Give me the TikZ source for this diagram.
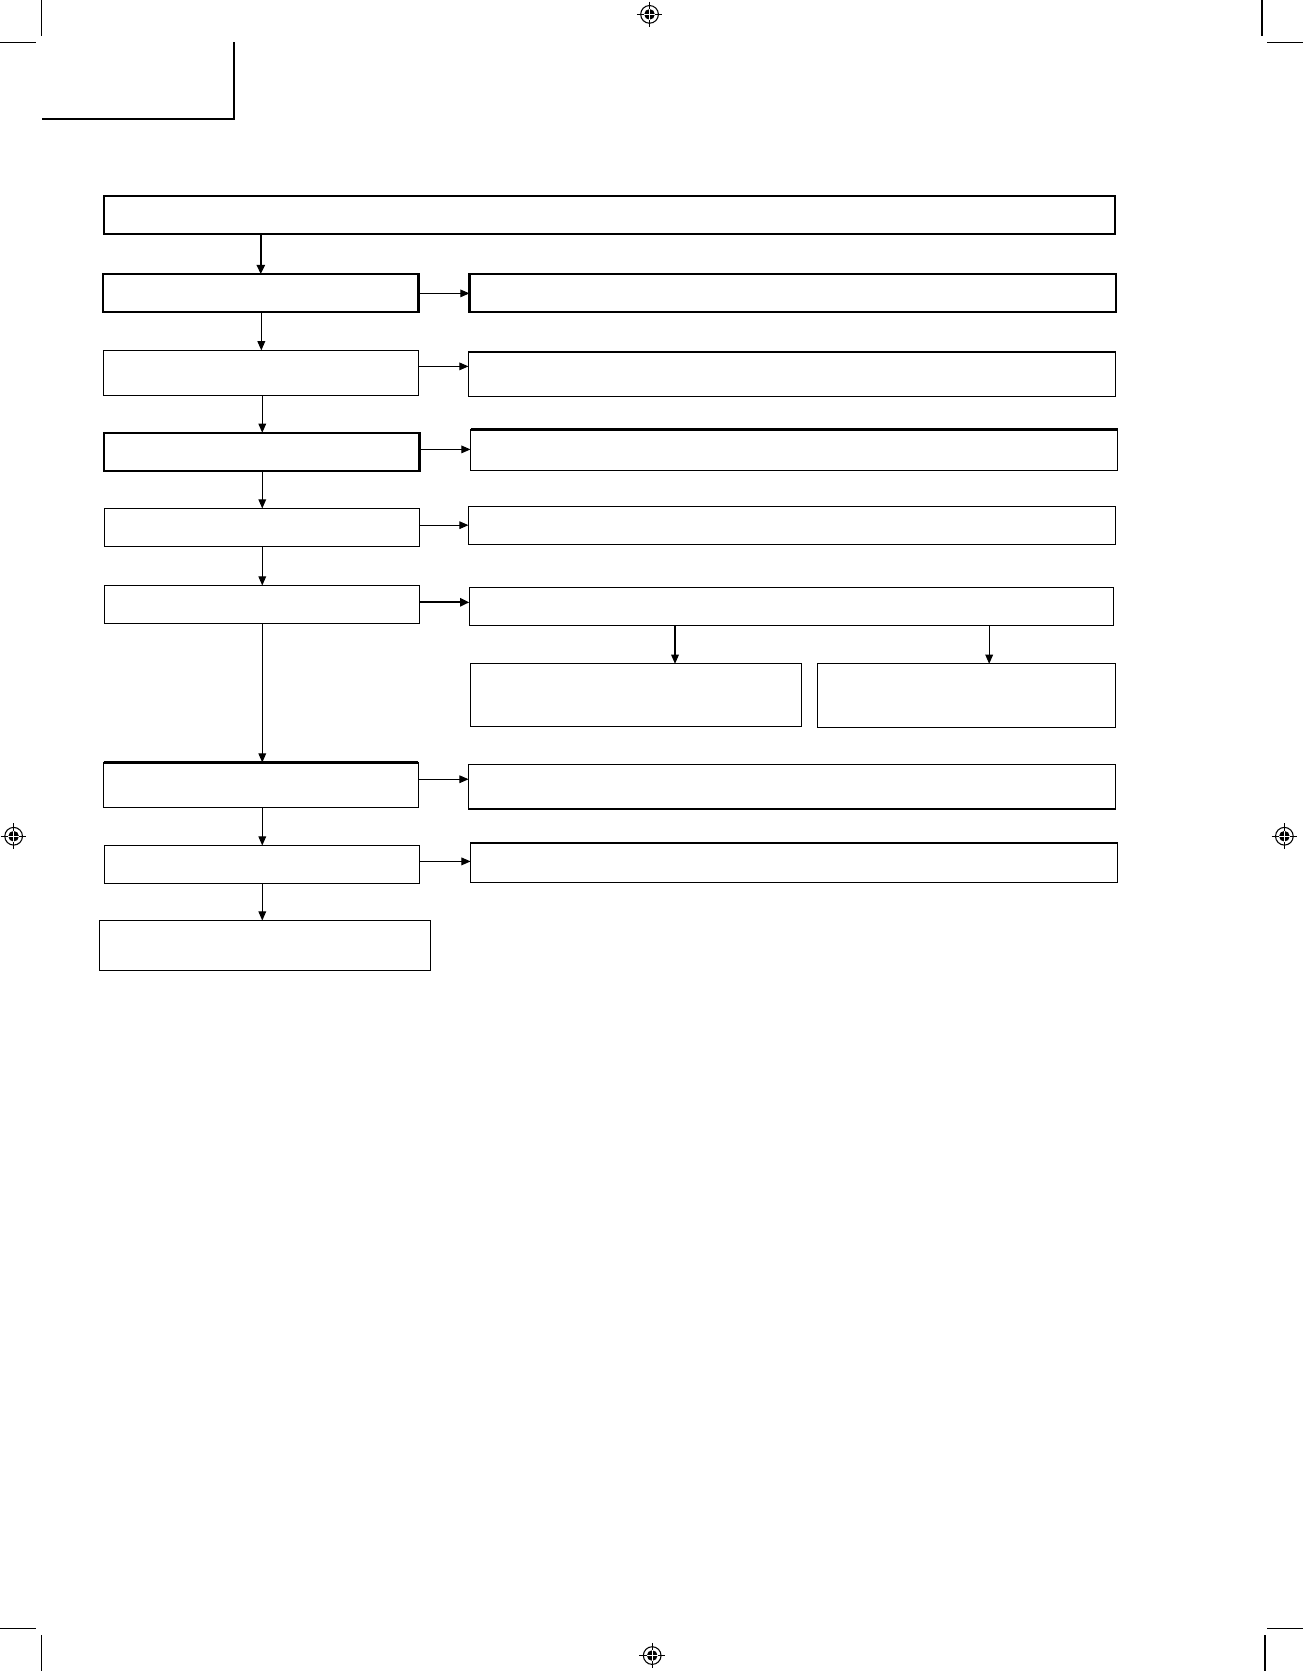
\documentclass[tikz,border=0pt]{standalone}
\usetikzlibrary{arrows.meta,fit}
\begin{document}
\begin{tikzpicture}[x=0.5pt,y=-0.5pt,
  thinbox/.style={draw=black,line width=0.5pt,inner sep=0pt,outer sep=0pt,rectangle},
  thickbox/.style={draw=black,line width=1pt,inner sep=0pt,outer sep=0pt,rectangle},
  arr/.style={draw=black,line width=0.5pt,-{Triangle[length=4.3pt,width=3.6pt]}},
  thickarr/.style={draw=black,line width=1pt,-{Triangle[length=4.3pt,width=3.8pt]}},
  cropline/.style={draw=black,line width=0.5pt},
  thickedge/.style={draw=black,line width=1pt}]
\useasboundingbox (0,0) rectangle (1223,1568);
\fill[white] (0,0) rectangle (1223,1568);

% crop marks
\draw[cropline] (39,0) -- (39,33.5);
\draw[cropline] (0,39.7) -- (33.5,39.7);
\draw[cropline] (1184.2,0) -- (1184.2,33.5);
\draw[cropline] (1189,39.7) -- (1223,39.7);
\draw[cropline] (0,1528.5) -- (33.5,1528.5);
\draw[cropline] (39,1534.5) -- (39,1568);
\draw[cropline] (1189,1528.5) -- (1223,1528.5);
\draw[cropline] (1187,1534.5) -- (1187,1568);

% registration marks
\foreach \cx/\cy in {609.5/13.5, 612/1553.5, 12.8/784.7, 1205.2/784.7}{
  \draw[line width=0.5pt] (\cx-12,\cy) -- (\cx+12,\cy) (\cx,\cy-12) -- (\cx,\cy+12);
  \fill[black] (\cx,\cy) circle[radius=5];
  \draw[white,line width=0.45pt] (\cx-5,\cy) -- (\cx+5,\cy) (\cx,\cy-5) -- (\cx,\cy+5);
  \draw[line width=0.5pt] (\cx,\cy) circle[radius=8.3];
}

% top-left bracket
\draw[line width=1pt] (219.6,39.7) -- (219.6,111.4) -- (39,111.4);

% boxes
\node[thickbox, fit={(97.6,183.7)(1046.6,219.3)}] (top) {};
\node[thickbox, fit={(97,257.2)(392.7,292.8)}] (l1) {};
\node[thickbox, fit={(440.5,257.2)(1046.9,292.8)}] (r1) {};
\node[thinbox, fit={(97,328.8)(392.7,371)}] (l2) {};
\node[thinbox, fit={(439.6,330.4)(1046.9,372)}] (r2) {};
\node[thickbox, fit={(97.9,406.1)(393.6,442.1)}] (l3) {};
\node[thinbox, fit={(441.5,403)(1048.7,441.5)}] (r3) {};
\node[thinbox, fit={(97.9,477.1)(393.6,512.8)}] (l4) {};
\node[thinbox, fit={(439.6,475.3)(1046.9,510.9)}] (r4) {};
\node[thinbox, fit={(97.7,549.4)(393.8,585.1)}] (l5) {};
\node[thinbox, fit={(440.4,551.6)(1045.2,586.9)}] (r5) {};
\node[thinbox, fit={(441.6,622.9)(752.2,681.4)}] (s1) {};
\node[thinbox, fit={(766.7,622.9)(1046.4,682.7)}] (s2) {};
\node[thinbox, fit={(97.3,715.5)(392.6,757.8)}] (l6) {};
\node[thinbox, fit={(439.7,717.7)(1047,759.3)}] (r6) {};
\node[thinbox, fit={(98,793.4)(393.8,829)}] (l7) {};
\node[thinbox, fit={(441.6,791)(1048.9,828.1)}] (r7) {};
\node[thinbox, fit={(93.3,863.8)(403.9,910.7)}] (fin) {};

% thicker single edges
\draw[thickedge] (r2.north west) -- (r2.north east);
\draw[thickedge] (r3.north west) -- (r3.north east);
\draw[thickedge] (l6.north west) -- (l6.north east);
\draw[thickedge] (r6.south west) -- (r6.south east);

% spine coordinates
\coordinate (xa) at (244.7,0);
\coordinate (xb) at (245.2,0);
\coordinate (xc) at (246.1,0);
\coordinate (xd) at (633.4,0);
\coordinate (xe) at (928.2,0);

% vertical arrows
\draw[thickarr] (top.south -| xa) -- (l1.north -| xa);
\draw[arr] (l1.south -| xb) -- (l2.north -| xb);
\draw[arr] (l2.south -| xc) -- (l3.north -| xc);
\draw[arr] (l3.south -| xc) -- (l4.north -| xc);
\draw[arr] (l4.south -| xc) -- (l5.north -| xc);
\draw[arr] (l5.south -| xc) -- (l6.north -| xc);
\draw[arr] (l6.south -| xc) -- (l7.north -| xc);
\draw[arr] (l7.south -| xc) -- (fin.north -| xc);
\draw[arr] (r5.south -| xd) -- (s1.north -| xd);
\draw[arr] (r5.south -| xe) -- (s2.north -| xe);

% horizontal arrows
\coordinate (y1) at (0,275.3);
\coordinate (y2) at (0,343.8);
\coordinate (y3) at (0,421.7);
\coordinate (y4) at (0,492.8);
\coordinate (y5) at (0,565.2);
\coordinate (y6) at (0,731.2);
\coordinate (y7) at (0,808.3);
\draw[arr] (l1.east |- y1) -- (r1.west |- y1);
\draw[arr] (l2.east |- y2) -- (r2.west |- y2);
\draw[arr] (l3.east |- y3) -- (r3.west |- y3);
\draw[arr] (l4.east |- y4) -- (r4.west |- y4);
\draw[thickarr] (l5.east |- y5) -- (r5.west |- y5);
\draw[arr] (l6.east |- y6) -- (r6.west |- y6);
\draw[arr] (l7.east |- y7) -- (r7.west |- y7);
\end{tikzpicture}
\end{document}
